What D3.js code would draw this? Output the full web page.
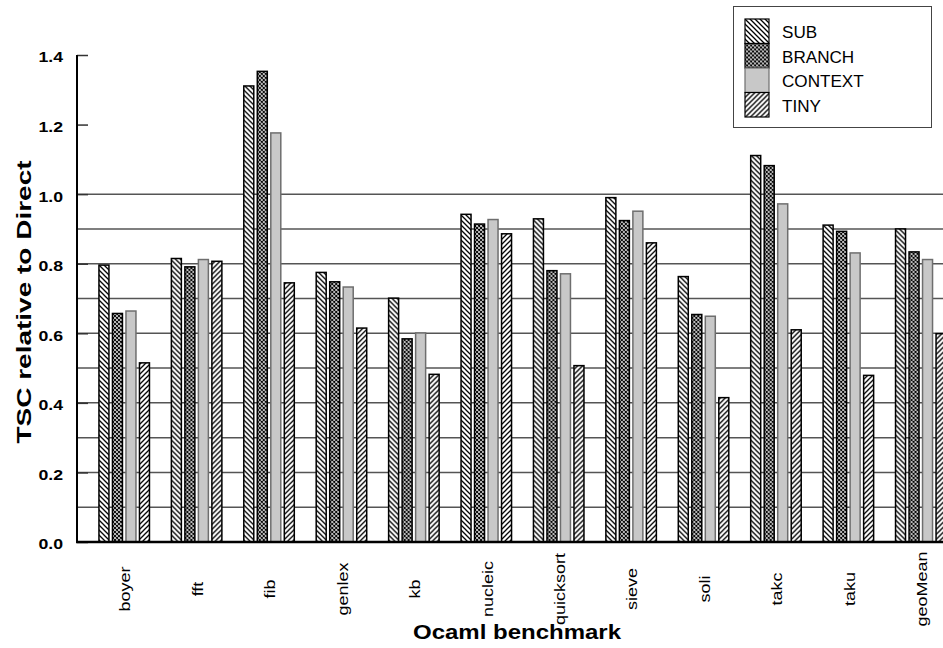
<!DOCTYPE html>
<html>
<head>
<meta charset="utf-8">
<script src="https://cdn.jsdelivr.net/npm/d3@7"></script>
<style>
  html, body { margin: 0; padding: 0; background: #fff; }
  svg { display: block; font-family: "Liberation Sans", Arial, Helvetica, sans-serif; }
</style>
</head>
<body>
<svg id="chart" width="943" height="648"></svg>
<script>
// Benchmarks and per-technique TSC ratios
const categories = ["boyer", "fft", "fib", "genlex", "kb", "nucleic", "quicksort", "sieve", "soli", "takc", "taku", "geoMean"];
const seriesNames = ["SUB", "BRANCH", "CONTEXT", "TINY"];
const subValues     = [0.796, 0.815, 1.311, 0.775, 0.701, 0.942, 0.929, 0.990, 0.763, 1.111, 0.911, 0.900];
const branchValues  = [0.657, 0.791, 1.353, 0.748, 0.584, 0.914, 0.780, 0.924, 0.654, 1.082, 0.893, 0.834];
const contextValues = [0.664, 0.812, 1.176, 0.733, 0.601, 0.927, 0.771, 0.951, 0.649, 0.972, 0.831, 0.812];
const tinyValues    = [0.515, 0.807, 0.745, 0.615, 0.482, 0.886, 0.507, 0.860, 0.415, 0.610, 0.479, 0.599];
const yTickLabels = ["0.0", "0.2", "0.4", "0.6", "0.8", "1.0", "1.2", "1.4"];
const gridValues = [0.1, 0.2, 0.3, 0.4, 0.5, 0.6, 0.7, 0.8, 0.9, 1.0];

const seriesValues = [subValues, branchValues, contextValues, tinyValues];
const rows = categories.map((c, i) => ({
  name: c,
  values: seriesNames.map((s, k) => ({ key: s, value: seriesValues[k][i] }))
}));

const svg = d3.select("#chart");
const defs = svg.append("defs");

// Hatch fills
function stripePattern(id, d, size, width) {
  const p = defs.append("pattern").attr("id", id)
    .attr("patternUnits", "userSpaceOnUse")
    .attr("width", size).attr("height", size);
  p.append("rect").attr("width", size).attr("height", size).attr("fill", "#fff");
  p.append("path").attr("d", d).attr("stroke", "#000")
    .attr("stroke-width", width).attr("fill", "none");
}
stripePattern("pat-sub", "M0,0L5,5M-1,4L1,6M4,-1L6,1", 5, 1.3);
stripePattern("pat-tiny", "M0,5L5,0M-1,1L1,-1M4,6L6,4", 5, 1.3);
stripePattern("pat-branch", "M0,0L4,4M0,4L4,0M-1,3L1,5M3,-1L5,1M-1,1L1,-1M3,5L5,3", 4, 1.1);

const fills = { SUB: "url(#pat-sub)", BRANCH: "url(#pat-branch)", CONTEXT: "#c8c8c8", TINY: "url(#pat-tiny)" };
const strokes = { SUB: "#000", BRANCH: "#000", CONTEXT: "#6e6e6e", TINY: "#000" };

const y = d3.scaleLinear().domain([0, 1.4]).range([542, 55]);
const x0 = d3.scaleBand().domain(categories).range([88, 957])
  .paddingInner(0.3025).paddingOuter(0.15125);
const x1 = d3.scaleBand().domain(seriesNames).range([0, x0.bandwidth()])
  .paddingInner(0.26).paddingOuter(0);

const axisLeft = 77, axisRight = 945;

// Horizontal grid lines
svg.append("g").selectAll("line").data(gridValues).join("line")
  .attr("x1", axisLeft).attr("x2", axisRight)
  .attr("y1", d => y(d)).attr("y2", d => y(d))
  .attr("stroke", "#555").attr("stroke-width", 1.5);

// Left axis with inward ticks
const yAxis = d3.axisRight(y)
  .tickValues(yTickLabels.map(Number))
  .tickSize(11).tickFormat("");
const ya = svg.append("g").attr("transform", `translate(${axisLeft},0)`).call(yAxis);
ya.select(".domain").remove();
ya.selectAll(".tick line").attr("stroke", "#333").attr("stroke-width", 1.5);
svg.append("line").attr("x1", axisLeft).attr("x2", axisLeft)
  .attr("y1", y(1.4)).attr("y2", y(0)).attr("stroke", "#000").attr("stroke-width", 2);

// Tick labels
svg.append("g").selectAll("text").data(yTickLabels).join("text")
  .attr("transform", d => `translate(63,${y(+d) + 2}) scale(1.18,1)`)
  .attr("text-anchor", "end").attr("dy", "0.36em")
  .attr("font-size", 15).attr("font-weight", "bold").attr("fill", "#000")
  .text(d => d);

// Bars
const groups = svg.append("g").selectAll("g").data(rows).join("g")
  .attr("transform", d => `translate(${x0(d.name)},0)`);
groups.selectAll("rect").data(d => d.values).join("rect")
  .attr("x", d => x1(d.key))
  .attr("y", d => y(d.value))
  .attr("width", x1.bandwidth())
  .attr("height", d => y(0) - y(d.value))
  .attr("fill", d => fills[d.key])
  .attr("stroke", d => strokes[d.key])
  .attr("stroke-width", 1.5);

// Baseline
svg.append("line").attr("x1", axisLeft - 1).attr("x2", axisRight)
  .attr("y1", y(0)).attr("y2", y(0)).attr("stroke", "#000").attr("stroke-width", 2.5);

// Category labels
svg.append("g").selectAll("text").data(categories).join("text")
  .attr("transform", d => `translate(${x0(d) + x0.bandwidth() / 2 + 1},589) rotate(-90) scale(1.2,1)`)
  .attr("text-anchor", "middle").attr("dy", "0.35em")
  .attr("font-size", 15).attr("fill", "#000")
  .text(d => d);

// Axis titles
svg.append("text")
  .attr("transform", "translate(517,639) scale(1.2,1)")
  .attr("text-anchor", "middle")
  .attr("font-size", 20).attr("font-weight", "bold")
  .text("Ocaml benchmark");
svg.append("text")
  .attr("transform", "translate(31,302) rotate(-90) scale(1.4,1)")
  .attr("text-anchor", "middle")
  .attr("font-size", 20).attr("font-weight", "bold")
  .text("TSC relative to Direct");

// Legend
const legend = svg.append("g");
legend.append("rect").attr("x", 733.5).attr("y", 6.5).attr("width", 198).attr("height", 121)
  .attr("fill", "#fff").attr("stroke", "#444").attr("stroke-width", 1);
const item = legend.selectAll("g").data(seriesNames).join("g")
  .attr("transform", (d, i) => `translate(745,${19 + i * 24.5})`);
item.append("rect").attr("width", 24).attr("height", 24.5)
  .attr("fill", d => fills[d]).attr("stroke", d => strokes[d]).attr("stroke-width", 1.2);
item.append("text")
  .attr("transform", "translate(37,19.3) scale(1.07,1)")
  .attr("font-size", 16).attr("fill", "#000")
  .text(d => d);
</script>
</body>
</html>
